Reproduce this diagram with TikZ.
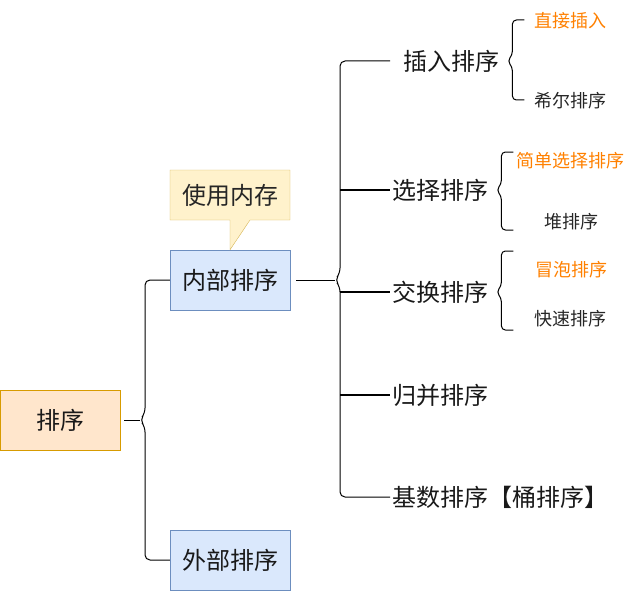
\documentclass[tikz,border=0pt]{standalone}
\usepackage{fontspec}
\setmainfont{Noto Sans CJK SC}
\usetikzlibrary{positioning}

\definecolor{rootfill}{HTML}{FFE6CC}
\definecolor{rootline}{HTML}{D79B00}
\definecolor{boxfill}{HTML}{DAE8FC}
\definecolor{boxline}{HTML}{6C8EBF}
\definecolor{notefill}{HTML}{FFF2CC}
\definecolor{noteline}{HTML}{D6B656}
\definecolor{hiorange}{HTML}{FF8000}

\tikzset{
    box/.style={draw, minimum width=120pt, minimum height=60pt, inner sep=0pt,
        font=\fontsize{24}{28}\selectfont, text=black!90},
    kind/.style={anchor=west, inner sep=0pt, inner xsep=2pt,
        font=\fontsize{24}{28}\selectfont, text=black!90},
    algo/.style={inner sep=0pt, font=\fontsize{18}{22}\selectfont, text=black!85},
    brace/.style={line width=1pt, rounded corners=5pt},
    branch/.style={line width=1.6pt},
}

\begin{document}
\begin{tikzpicture}[x=1pt, y=-1pt]
        \useasboundingbox (0,0) rectangle (636,591);

        % boxes
        \node[box, fill=rootfill, draw=rootline] (sort) at (60,420) {排序};
        \node[box, fill=boxfill, draw=boxline] (inner) at (230,280) {内部排序};
        \node[box, fill=boxfill, draw=boxline] (outer) at (230,560) {外部排序};

        % callout
        \draw[fill=notefill, draw=noteline] (170,170) -- (290,170) -- (290,220)
            -- (250,220) -- (inner.north) -- (230,220) -- (170,220) -- cycle;
        \node[algo, font=\fontsize{24}{28}\selectfont] (memo) at (230,195) {使用内存};

        % kinds of internal sorting
        \node[kind] (insert) at (401,61) {插入排序};
        \node[kind] (select) at (390,190) {选择排序};
        \node[kind] (swap) at (390,292) {交换排序};
        \node[kind] (merge) at (390,395) {归并排序};
        \node[kind] (radix) at (390,497) {基数排序【桶排序】};

        % algorithms
        \node[algo, text=hiorange] (direct) at (570,21) {直接插入};
        \node[algo] (shell) at (570,101) {希尔排序};
        \node[algo, text=hiorange] (simple) at (570,161) {简单选择排序};
        \node[algo] (heap) at (571,222) {堆排序};
        \node[algo, text=hiorange] (bubble) at (571,270) {冒泡排序};
        \node[algo] (quick) at (570,319) {快速排序};

        % root brace
        \coordinate (rootspine) at (145,420);
        \draw[line width=1pt] ([xshift=4pt]sort.east) -- ([xshift=-5pt]rootspine);
        \draw[brace] (inner.west) -| ([yshift=7pt]rootspine) -- ([xshift=-5pt]rootspine)
            -- ([yshift=-7pt]rootspine) |- (outer.west);

        % internal brace
        \coordinate (innerspine) at (340,280);
        \draw[line width=1pt] ([xshift=6pt]inner.east) -- ([xshift=-5pt]innerspine);
        \draw[brace] ([xshift=-11pt]insert.west) -| ([yshift=7pt]innerspine) -- ([xshift=-5pt]innerspine)
            -- ([yshift=-7pt]innerspine) |- (radix.west);
        \foreach \k in {select,swap,merge} {
            \draw[branch] (\k.west -| innerspine) -- (\k.west);
        }

        % small braces
        \foreach \p/\t/\b in {insert/20/100, select/152/230, swap/251/330} {
            \path (\p.east) ++(11,0) coordinate (spine);
            \draw[brace, rounded corners=4pt] (spine |- 0,\t) ++(12,0) -- (spine |- 0,\t)
                -- ([yshift=6pt]spine) -- ([xshift=-5pt]spine) -- ([yshift=-6pt]spine)
                -- (spine |- 0,\b) -- ++(12,0);
        }
    \end{tikzpicture}
\end{document}
